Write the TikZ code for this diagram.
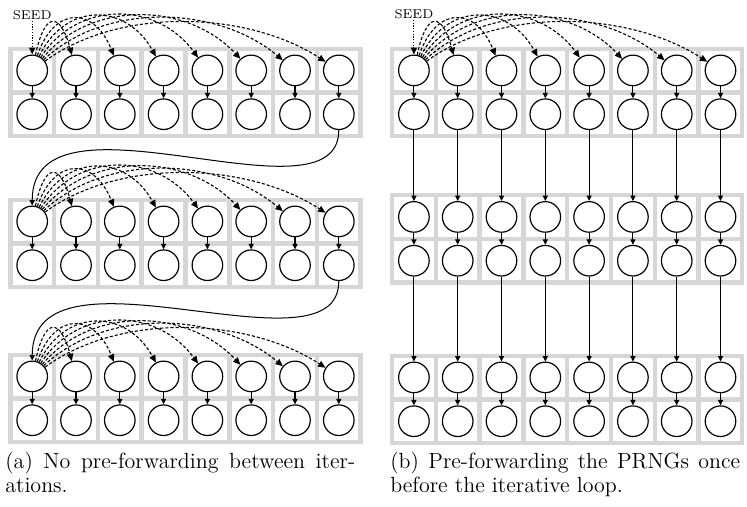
\documentclass[tikz,border=0pt]{standalone}
\usetikzlibrary{arrows.meta}
\definecolor{gridgray}{HTML}{D6D6D6}
\tikzset{
  rng/.style={circle,draw,line width=0.65pt,minimum size=16.7pt,inner sep=0pt},
  rowarrow/.style={line width=0.6pt,-{Triangle[length=3pt,width=2.8pt]}},
  seedarrow/.style={line width=0.6pt,dash pattern=on 0.6pt off 0.9pt,-{Triangle[length=3.8pt,width=3.3pt]}},
  fwdarrow/.style={line width=0.6pt,dash pattern=on 1.7pt off 1.1pt,-{Triangle[length=4pt,width=3.5pt]}},
  iterarrow/.style={line width=0.55pt,-{Triangle[length=3pt,width=2.8pt]}},
  capt/.style={inner sep=0pt,align=left,font=\fontsize{12}{13}\selectfont},
  seedlbl/.style={inner sep=0.5pt,font=\fontsize{7}{8}\selectfont},
}
% #1 name prefix, #2 left x (px), #3 top y (px, downwards)
\newcommand\prngblock[3]{%
  \fill[gridgray] (#2,-#3) rectangle ++(354.4,-91.6);
  \foreach \j in {0,...,7}{
    \foreach \i in {0,1}{
      \fill[white] (#2+4.25+43.8*\j,-#3-4.25-43.8*\i) rectangle ++(39.3,-39.3);
      \node[rng] (#1-\i-\j) at (#2+23.9+43.8*\j,-#3-23.9-43.8*\i) {};
    }
    \draw[rowarrow] (#1-0-\j) -- (#1-1-\j);
  }
}
\newcommand\fwdfan[1]{%
  \foreach \k in {1,...,7}{
    \pgfmathtruncatemacro\ao{78-7*(\k-1)}
    \pgfmathtruncatemacro\ai{105+7*(\k-1)}
    \pgfmathtruncatemacro\cl{45+8*(\k-1)}
    \draw[fwdarrow] (#1-0-0.\ao) .. controls +(\ao:\cl) and +(\ai:\cl) .. (#1-0-\k.\ai);
  }
}
\begin{document}
\begin{tikzpicture}[x=0.546pt,y=0.546pt]
\useasboundingbox (0,0) rectangle (747,-506);
% left panel
\prngblock{La}{8.3}{46.5}
\prngblock{Lb}{8.3}{197.5}
\prngblock{Lc}{8.3}{352.5}
% right panel
\prngblock{Ra}{390}{46.5}
\prngblock{Rb}{390}{193}
\prngblock{Rc}{390}{353.5}
% seeds
\node[seedlbl] (seedL) at (32.2,-15) {SEED};
\node[seedlbl] (seedR) at (413.9,-14) {SEED};
\draw[seedarrow] (seedL) -- (La-0-0);
\draw[seedarrow] (seedR) -- (Ra-0-0);
% forwarding fans
\fwdfan{La}
\fwdfan{Lb}
\fwdfan{Lc}
\fwdfan{Ra}
% left: iteration links
\draw[iterarrow] (La-1-7.south) .. controls +(0,-100) and +(0,128) .. (Lb-0-0.north);
\draw[iterarrow] (Lb-1-7.south) .. controls +(0,-100) and +(0,128) .. (Lc-0-0.north);
% right: straight links
\foreach \j in {0,...,7}{
  \draw[iterarrow] (Ra-1-\j) -- (Rb-0-\j);
  \draw[iterarrow] (Rb-1-\j) -- (Rc-0-\j);
}
% captions
\node[capt,anchor=north west] (capa) at (5,-452) {\makebox[191pt][s]{(a) No pre-forwarding between iter-}\\ations.};
\node[capt,anchor=north west] (capb) at (390,-452) {\makebox[191pt][s]{(b) Pre-forwarding the PRNGs once}\\before the iterative loop.};
\end{tikzpicture}
\end{document}
